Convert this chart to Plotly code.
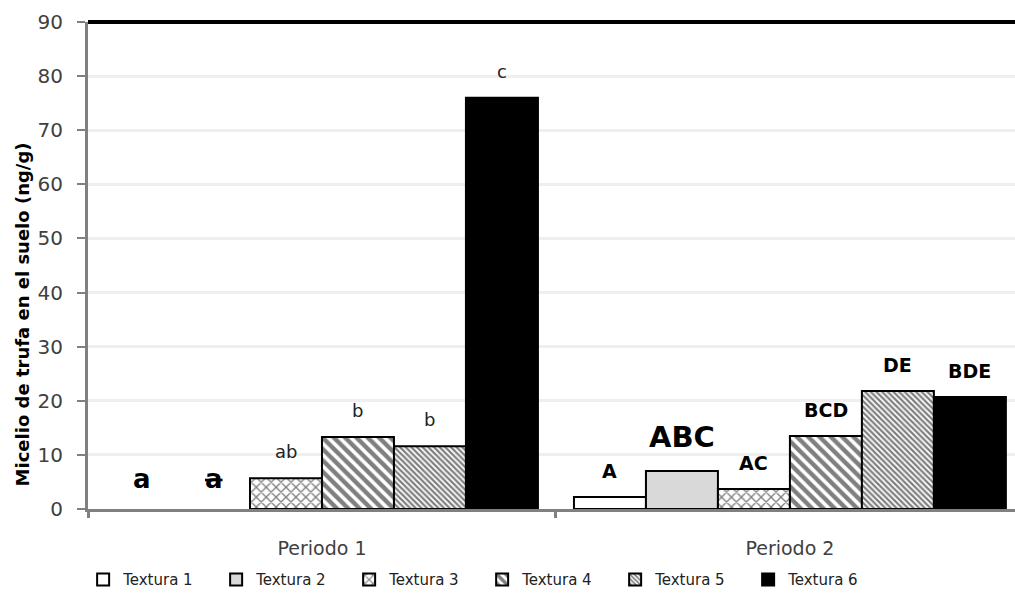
import plotly.graph_objects as go

periods = ["Periodo 1", "Periodo 2"]
series_names = ["Textura 1", "Textura 2", "Textura 3", "Textura 4", "Textura 5", "Textura 6"]
values = {
    "Textura 1": [0.0, 2.2],
    "Textura 2": [0.0, 7.0],
    "Textura 3": [5.7, 3.7],
    "Textura 4": [13.3, 13.5],
    "Textura 5": [11.6, 21.8],
    "Textura 6": [76.0, 20.7],
}
labels_p1 = ["a", "<s>a</s>", "ab", "b", "b", "c"]
labels_p2 = ["A", "ABC", "AC", "BCD", "DE", "BDE"]
yticks = [0, 10, 20, 30, 40, 50, 60, 70, 80, 90]

fills = ["white", "#d9d9d9", "white", "white", "white", "black"]
patterns = [
    dict(shape=""),
    dict(shape=""),
    dict(shape="x", size=7, solidity=0.35, fgcolor="black", bgcolor="white"),
    dict(shape="\\", size=8, solidity=0.55, fgcolor="black", bgcolor="white"),
    dict(shape="\\", size=4, solidity=0.55, fgcolor="black", bgcolor="white"),
    dict(shape=""),
]

FONT = "'DejaVu Sans', sans-serif"
bargap = 0.077

fig = go.Figure()
for i, name in enumerate(series_names):
    yv = [v if v != 0 else None for v in values[name]]
    fig.add_trace(go.Bar(
        x=periods, y=yv, name=name,
        marker=dict(color=fills[i], line=dict(color="black", width=2), pattern=patterns[i]),
    ))

n = len(series_names)
w = (1 - bargap) / n
annotations = []
for ci, labs in enumerate([labels_p1, labels_p2]):
    for i, lab in enumerate(labs):
        name = series_names[i]
        v = values[name][ci]
        xpos = ci + (i - (n - 1) / 2) * w
        if ci == 0:
            if i < 2:
                font = dict(family=FONT, size=26, color="black")
                ys = 13
                lab_txt = "<b>" + lab + "</b>"
            else:
                font = dict(family=FONT, size=18, color="#222222")
                ys = 14
                lab_txt = lab
        else:
            if lab == "ABC":
                font = dict(family=FONT, size=29, color="black")
                ys = 15
            else:
                font = dict(family=FONT, size=19, color="black")
                ys = 13
            lab_txt = "<b>" + lab + "</b>"
        annotations.append(dict(x=xpos, y=v, xref="x", yref="y", text=lab_txt,
                                showarrow=False, yanchor="bottom", yshift=ys, font=font))

annotations.append(dict(x=-0.071, y=0.40, xref="paper", yref="paper", xanchor="center", yanchor="middle",
                        text="<b>Micelio de trufa en el suelo (ng/g)</b>", textangle=-90, showarrow=False,
                        font=dict(family=FONT, size=18, color="black")))

fig.update_layout(
    width=1015, height=604,
    margin=dict(l=88, r=0, t=22, b=95),
    paper_bgcolor="white", plot_bgcolor="white",
    barmode="group", bargap=bargap, bargroupgap=0,
    font=dict(family=FONT, color="#404040"),
    annotations=annotations,
    showlegend=True,
    legend=dict(orientation="h", xref="container", yref="container",
                x=0.475, xanchor="center", y=0.04, yanchor="middle",
                font=dict(family=FONT, size=15, color="#222222"),
                itemwidth=30, tracegroupgap=0, entrywidth=88, entrywidthmode="pixels"),
    shapes=[dict(type="line", xref="paper", yref="paper", x0=0, x1=1, y0=1, y1=1,
                 line=dict(color="black", width=4))],
)
fig.update_xaxes(
    type="category", range=[-0.5, 1.481], automargin=False,
    showline=True, linecolor="#808080", linewidth=3,
    ticks="outside", tickson="boundaries", ticklen=6, tickwidth=3, tickcolor="#808080",
    tickfont=dict(family=FONT, size=19, color="#404040"),
    ticklabelstandoff=20, showgrid=False, zeroline=False,
)
fig.update_yaxes(
    range=[0, 90], tickvals=yticks, automargin=False,
    showline=True, linecolor="#808080", linewidth=3,
    ticks="outside", ticklen=8, tickwidth=2, tickcolor="#808080",
    tickfont=dict(family=FONT, size=20, color="#404040"),
    ticklabelstandoff=10,
    showgrid=True, gridcolor="#efefef", gridwidth=3,
    zeroline=False,
)

fig.write_html("out.html", config={"displayModeBar": False},
               post_script="document.body.style.margin='0';document.body.style.padding='0';")
